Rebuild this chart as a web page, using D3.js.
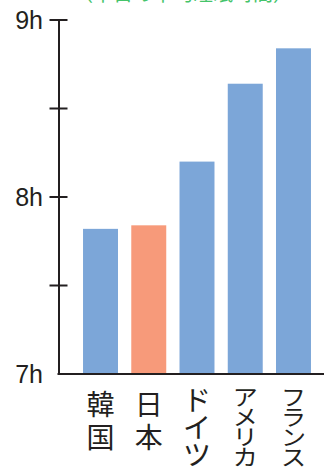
<!DOCTYPE html>
<html>
<head>
<meta charset="utf-8">
<script src="https://cdn.jsdelivr.net/npm/d3@7"></script>
<style>
  html, body { margin: 0; padding: 0; background: #fff; }
  svg { display: block; }
</style>
</head>
<body>
<svg id="chart" width="324" height="467"></svg>
<script>
// Average nightly sleep by country (hours)
const countries = ["韓国", "日本", "ドイツ", "アメリカ", "フランス"];
const sleepHours = [7.82, 7.84, 8.20, 8.64, 8.84];
const barColors = ["#7ca6d8", "#f79a7a", "#7ca6d8", "#7ca6d8", "#7ca6d8"];
const tickValues = [7, 7.5, 8, 8.5, 9];
const tickLabels = ["7h", "", "8h", "", "9h"];
const titleText = "（平日の平均睡眠時間）";

const svg = d3.select("#chart");
const W = 324, H = 467;
const axisX = 58.5, baseY = 374, topY = 20;

const x = d3.scaleBand()
  .domain(countries)
  .range([70, W])
  .paddingInner(0.275)
  .paddingOuter(0.27);

const y = d3.scaleLinear().domain([7, 9]).range([baseY, topY]);

// title, mostly above the visible area
svg.append("text")
  .attr("x", 183).attr("y", 1)
  .attr("text-anchor", "middle")
  .attr("fill", "#45c46a")
  .attr("font-family", "'Noto Sans CJK JP', sans-serif")
  .attr("font-size", 20)
  .text(titleText);

// bars
svg.selectAll("rect.bar")
  .data(countries)
  .join("rect")
  .attr("class", "bar")
  .attr("x", d => x(d))
  .attr("width", x.bandwidth())
  .attr("y", (d, i) => y(sleepHours[i]))
  .attr("height", (d, i) => baseY - y(sleepHours[i]))
  .attr("fill", (d, i) => barColors[i]);

// y axis
const yAxis = d3.axisLeft(y)
  .tickValues(tickValues.slice(1))
  .tickSizeInner(0)
  .tickSizeOuter(0)
  .tickFormat("");
const gy = svg.append("g").attr("transform", `translate(${axisX},0)`).call(yAxis);
gy.select(".domain").attr("stroke", "#231f20").attr("stroke-width", 2);

// ticks crossing the axis
svg.selectAll("line.tick")
  .data(tickValues.slice(1))
  .join("line")
  .attr("class", "tick")
  .attr("x1", axisX - 9).attr("x2", axisX + 9)
  .attr("y1", d => y(d)).attr("y2", d => y(d))
  .attr("stroke", "#231f20").attr("stroke-width", 2);

// baseline
svg.append("line")
  .attr("x1", axisX - 1).attr("x2", W)
  .attr("y1", baseY).attr("y2", baseY)
  .attr("stroke", "#231f20").attr("stroke-width", 2);

// tick labels
svg.selectAll("text.ylab")
  .data(tickValues)
  .join("text")
  .attr("class", "ylab")
  .attr("x", 43)
  .attr("y", d => y(d))
  .attr("dy", "0.35em")
  .attr("text-anchor", "end")
  .attr("fill", "#231f20")
  .attr("font-family", "'Liberation Sans', Arial, sans-serif")
  .attr("font-size", 25)
  .text((d, i) => tickLabels[i]);

// vertical category labels, one glyph per line, squeezed to fit the column
const labelTop = 386, labelSpan = 80;
countries.forEach(name => {
  const chars = Array.from(name);
  const pitch = Math.min(33, labelSpan / chars.length);
  const fs = Math.min(28, pitch * 1.25);
  const sy = Math.min(1, pitch * 1.1 / fs);
  const cx = x(name) + x.bandwidth() / 2;
  svg.append("g").selectAll("text")
    .data(chars)
    .join("text")
    .attr("transform", (c, i) => `translate(${cx},${labelTop + pitch * (i + 0.5)}) scale(1,${sy})`)
    .attr("dominant-baseline", "central")
    .attr("text-anchor", "middle")
    .attr("fill", "#231f20")
    .attr("font-family", "'Noto Sans CJK JP', sans-serif")
    .attr("font-size", fs)
    .text(c => c);
});
</script>
</body>
</html>
